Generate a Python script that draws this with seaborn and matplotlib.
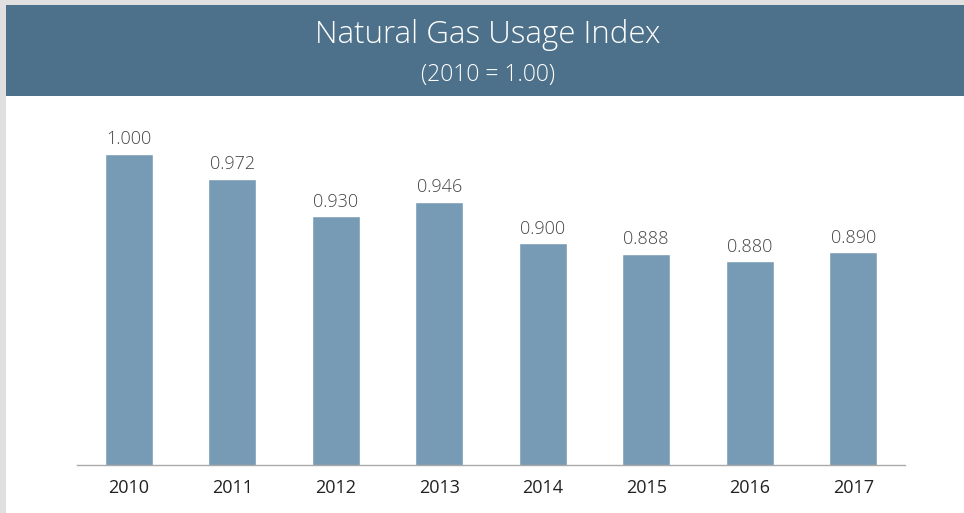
import matplotlib
matplotlib.use("Agg")
import matplotlib.pyplot as plt
import matplotlib.patches as patches
import seaborn as sns
import pandas as pd

# Data
years = ["2010", "2011", "2012", "2013", "2014", "2015", "2016", "2017"]
index_values = [1.000, 0.972, 0.930, 0.946, 0.900, 0.888, 0.880, 0.890]

df = pd.DataFrame({"year": years, "index": index_values})

sns.set_style("white")
plt.rcParams["font.family"] = ["Open Sans", "DejaVu Sans"]

fig = plt.figure(figsize=(9.64, 5.13), dpi=100)
fig.patch.set_facecolor("#E0E0E0")

# white panel and title banner
fig.add_artist(patches.Rectangle((6 / 964, 0), 1, 1 - 5 / 513, transform=fig.transFigure,
                                 facecolor="white", edgecolor="none", zorder=0))
fig.add_artist(patches.Rectangle((6 / 964, 1 - 96 / 513), 1, 91 / 513, transform=fig.transFigure,
                                 facecolor="#4D718A", edgecolor="none", zorder=0))
fig.text(0.506, 1 - 35 / 513, "Natural Gas Usage Index", color="white", fontsize=22.5,
         fontweight="light", ha="center", va="center")
fig.text(0.506, 1 - 75 / 513, "(2010 = 1.00)", color="white", fontsize=16.5,
         fontweight="light", ha="center", va="center")

ax = fig.add_axes([77 / 964, 48 / 513, 828 / 964, 356 / 513])
ax.set_facecolor("none")
sns.barplot(data=df, x="year", y="index", color="#779BB5", saturation=1, width=0.46, ax=ax)
ax.set_ylim(0.652, 1.05)
ax.set_xlim(-0.5, 7.5)

ax.bar_label(ax.containers[0], fmt="%.3f", padding=4, fontsize=13, color="#444444",
             fontweight="light")

ax.set_xlabel("")
ax.set_ylabel("")
ax.set_yticks([])
for s in ["top", "right", "left"]:
    ax.spines[s].set_visible(False)
ax.spines["bottom"].set_color("#AAAAAA")
ax.spines["bottom"].set_linewidth(1)
ax.tick_params(axis="x", length=0, pad=10, labelsize=13, labelcolor="#222222")

fig.savefig("out.png", dpi=100, facecolor=fig.get_facecolor())
